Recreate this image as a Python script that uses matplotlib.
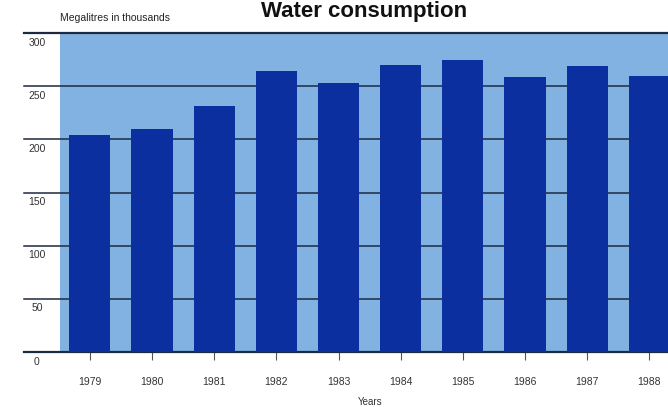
import numpy as np
import matplotlib.pyplot as plt
from matplotlib.transforms import blended_transform_factory

# data
years = ['1979', '1980', '1981', '1982', '1983', '1984', '1985', '1986', '1987', '1988']
consumption = [204, 210, 231, 264, 253, 270, 275, 259, 269, 260]
yticks = [0, 50, 100, 150, 200, 250, 300]

plt.rcParams['font.family'] = ['Liberation Sans', 'DejaVu Sans']

fig = plt.figure(figsize=(6.68, 4.07), dpi=100)
ax = fig.add_axes([0.0898, 0.135, 0.9102, 0.784])
ax.set_facecolor('#82b2e2')

x = np.arange(len(years))
ax.bar(x, consumption, width=0.66, color='#0b2f9e', zorder=3)
ax.set_xlim(-0.48, 9.3)
ax.set_ylim(0, 300)

# grid lines that run out past the left edge
trans = blended_transform_factory(ax.transAxes, ax.transData)
for v in yticks:
    lw = 1.6 if v in (0, 300) else 1.1
    ax.plot([-0.06, 1.0], [v, v], transform=trans, color='#1c2a40',
            linewidth=lw, clip_on=False, zorder=2)
    ax.text(-0.038, v - 9, str(v), transform=trans, ha='center', va='center',
            fontsize=7.5, color='#333333')

for s in ax.spines.values():
    s.set_visible(False)
ax.set_yticks([])
ax.set_xticks(x)
ax.set_xticklabels(years, fontsize=7.5, color='#333333')
ax.tick_params(axis='x', length=6, width=0.8, color='#555555', pad=12)

ax.text(0.51, -0.155, 'Years', transform=ax.transAxes, ha='center',
        va='center', fontsize=7, color='#333333')
fig.text(0.09, 0.955, 'Megalitres in thousands', ha='left', va='center',
         fontsize=7.5, color='#222222')
fig.text(0.545, 0.997, 'Water consumption', ha='center', va='top',
         fontsize=16, fontweight='bold', color='#111111')

plt.savefig('out.png', dpi=100)
plt.close()
